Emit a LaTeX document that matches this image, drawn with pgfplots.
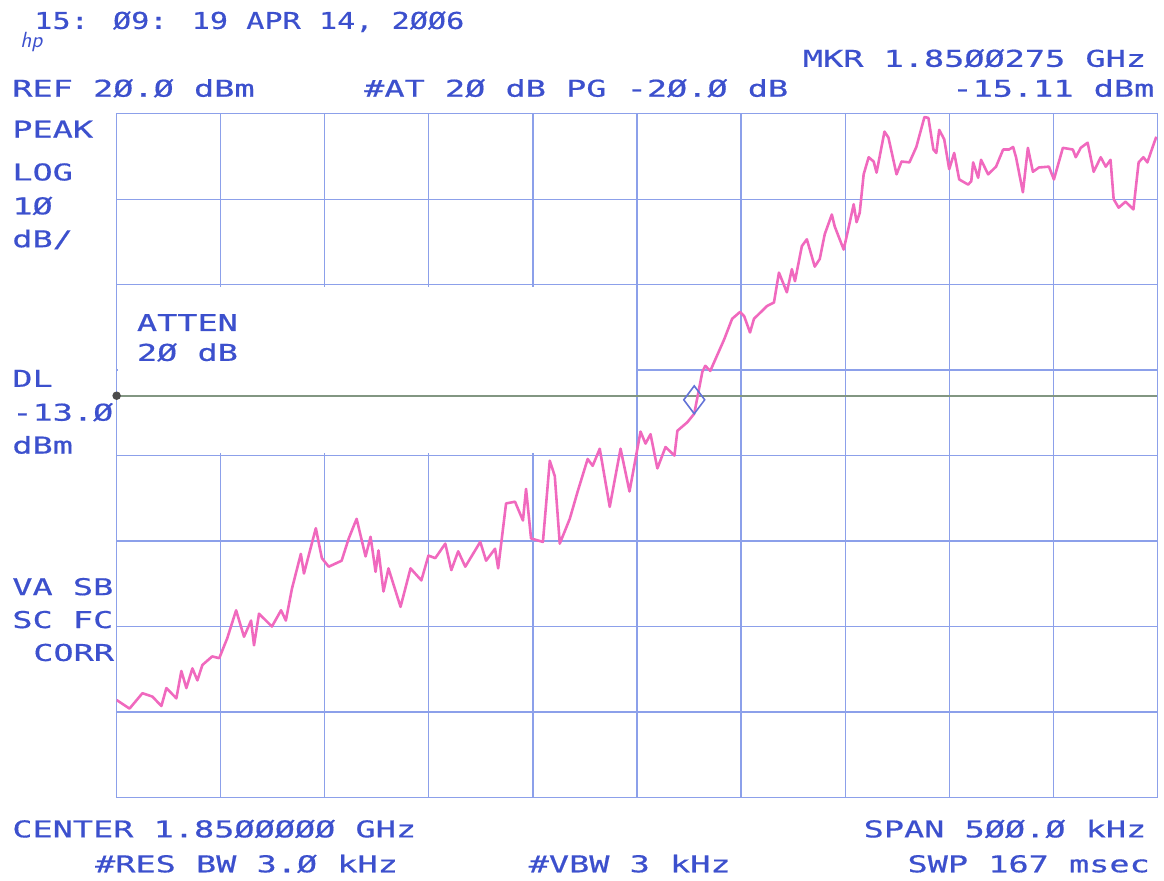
\documentclass[border=0pt]{standalone}
\usepackage{pgfplots}
\usepackage{pgfplotstable}
\usepackage{graphicx}
\usepackage{fontspec}
\pgfplotsset{compat=1.18}
\newfontfamily\plotfont[FakeStretch=1.45, FakeBold=0.6]{DejaVu Sans Mono}
\definecolor{txtblue}{RGB}{60,80,205}
\definecolor{gridblue}{RGB}{140,160,234}
\definecolor{trace}{RGB}{240,105,190}
\definecolor{dlgreen}{RGB}{130,150,130}

% trace: offset from 1.85 GHz (kHz), level (dBm)
\pgfplotstableread{
f P
-250.0 -48.6
-243.8 -49.6
-237.6 -47.8
-232.8 -48.2
-228.5 -49.3
-226.1 -47.2
-221.3 -48.4
-218.9 -45.2
-216.5 -47.2
-213.6 -44.9
-211.2 -46.3
-208.8 -44.5
-204.1 -43.5
-200.7 -43.7
-196.9 -41.4
-192.6 -38.1
-188.8 -41.2
-185.4 -39.3
-184.0 -42.2
-181.6 -38.5
-175.4 -40.0
-171.0 -38.1
-168.7 -39.3
-165.8 -35.6
-161.5 -31.5
-160.0 -33.8
-154.3 -28.5
-151.4 -32.0
-148.1 -33.0
-141.9 -32.3
-138.5 -29.7
-134.7 -27.4
-130.4 -31.8
-128.0 -29.5
-125.6 -33.6
-124.2 -31.1
-121.8 -35.9
-119.4 -33.2
-113.6 -37.7
-108.8 -33.2
-103.6 -34.6
-100.2 -31.7
-96.9 -32.0
-92.1 -30.3
-89.2 -33.4
-85.9 -31.2
-82.5 -33.0
-75.3 -30.1
-72.5 -32.3
-68.2 -30.9
-66.7 -33.2
-62.9 -25.6
-58.6 -25.4
-54.8 -27.6
-53.3 -23.9
-50.9 -29.7
-45.2 -30.1
-41.9 -20.6
-39.5 -22.4
-37.1 -30.3
-32.3 -27.4
-28.5 -24.2
-23.7 -20.4
-21.3 -21.2
-17.9 -19.2
-13.1 -26.0
-7.9 -19.2
-3.6 -24.2
1.7 -17.2
4.1 -18.6
6.5 -17.5
9.8 -21.5
13.7 -19.0
18.0 -20.0
19.4 -17.1
24.2 -16.1
27.5 -15.1
31.4 -10.2
32.8 -9.5
35.2 -10.1
41.9 -6.4
45.7 -4.0
49.5 -3.2
51.5 -3.7
54.3 -5.6
56.2 -4.0
62.5 -2.5
65.8 -2.1
68.2 1.4
72.0 -0.9
74.4 1.8
75.9 0.4
79.2 4.5
81.6 5.3
85.4 2.1
87.8 3.0
90.2 5.9
93.6 8.2
95.0 6.8
99.3 4.1
101.7 6.7
104.1 9.4
105.5 7.3
107.0 8.4
108.9 12.9
111.3 14.9
113.7 14.4
115.1 13.1
118.9 17.9
120.8 17.2
124.7 12.9
127.1 14.4
130.9 14.3
134.2 16.1
138.1 19.6
140.0 19.5
142.4 15.8
143.8 15.4
145.2 18.1
147.6 17.0
150.0 13.5
152.4 15.4
154.8 12.3
159.1 11.7
160.6 12.1
161.5 14.3
163.9 12.5
165.3 14.6
168.7 12.9
172.5 13.8
175.9 15.8
178.7 15.8
180.7 16.1
182.1 14.9
185.4 10.8
187.8 16.0
190.2 13.2
193.1 13.7
197.9 13.8
200.3 12.3
204.6 16.0
209.4 15.8
210.8 14.9
213.2 16.0
216.5 16.6
219.4 13.2
222.8 14.9
225.2 13.8
227.5 14.6
229.0 10.0
231.4 9.0
234.7 9.7
238.5 8.8
241.0 14.3
243.3 14.9
245.2 14.3
247.6 16.0
249.5 17.3
}\tracedata

\begin{document}
\begin{tikzpicture}
  \begin{axis}[
    at={(0,0)}, anchor=south west,
    scale only axis, width=522pt, height=343pt,
    xmin=-250, xmax=250, ymin=-60, ymax=20,
    xtick={-250,-200,...,250}, ytick={-60,-50,...,20},
    xticklabels={}, yticklabels={},
    tick style={draw=none},
    grid=major,
    grid style={gridblue, line width=0.6pt},
    axis line style={gridblue, line width=0.7pt},
  ]
    % blank annotation box (no grid under ATTEN text)
    \fill[white] (axis cs:-249.3,-19.7) rectangle (axis cs:-0.7,-0.3);
    % display line
    \addplot[dlgreen, line width=1pt, mark=*, mark indices={1},
      mark options={fill=black!70, draw=black!70}, mark size=1.6pt]
      coordinates {(-250,-13) (250,-13)};
    \addplot[trace, line width=1.3pt, line join=round] table[x=f, y=P] {\tracedata};
    \addplot[only marks, mark=diamond, mark size=7pt, txtblue!80,
      mark options={line width=0.8pt, yshift=7pt, fill=none}]
      coordinates {(27.5,-15.11)};
  \end{axis}

  \begin{scope}[x=0.5pt, y=-0.5pt, xshift=-58.5pt, yshift=400pt,
      every node/.style={anchor=base west, inner sep=0pt, text=txtblue,
        font=\plotfont\fontsize{11.6}{12}\selectfont}]
    \path[use as bounding box] (0,0) rectangle (1164,883);
    \node at (34,29) {\scalebox{0.9}[1]{15: Ø9: 19 APR 14, 2ØØ6}};
    \node[font=\sffamily\itshape\fontsize{11}{12}\selectfont] at (20,48) {hp};
    \node at (805,67) {MKR 1.85ØØ275 GHz};
    \node at (12,97) {REF 2Ø.Ø dBm};
    \node at (365,97) {\#AT 2Ø dB PG -2Ø.Ø dB};
    \node at (955,97) {-15.11 dBm};
    \node at (12,138) {PEAK};
    \node at (12,181) {LOG};
    \node at (12,215) {1Ø};
    \node at (12,248) {dB/};
    \node at (137,332) {ATTEN};
    \node at (137,362) {2Ø dB};
    \node at (12,388) {DL};
    \node at (12,422) {-13.Ø};
    \node at (12,455) {dBm};
    \node at (12,597) {VA SB};
    \node at (12,630) {SC FC};
    \node at (33,663) {CORR};
    \node at (12,840) {CENTER 1.85ØØØØØ GHz};
    \node at (866,840) {SPAN 5ØØ.Ø kHz};
    \node at (95,875) {\#RES BW 3.Ø kHz};
    \node at (530,875) {\#VBW 3 kHz};
    \node at (910,875) {SWP 167 msec};
  \end{scope}
\end{tikzpicture}
\end{document}
